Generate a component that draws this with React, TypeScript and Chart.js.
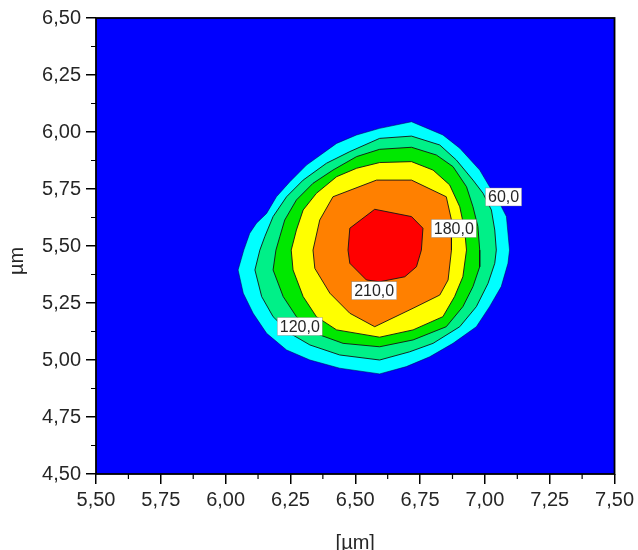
import { useEffect, useRef } from 'react';
import { Chart, registerables } from 'chart.js';

Chart.register(...registerables);

const xTicks = [5.5, 5.75, 6.0, 6.25, 6.5, 6.75, 7.0, 7.25, 7.5];
const xTickLabels = ['5,50', '5,75', '6,00', '6,25', '6,50', '6,75', '7,00', '7,25', '7,50'];
const yTicks = [4.5, 4.75, 5.0, 5.25, 5.5, 5.75, 6.0, 6.25, 6.5];
const yTickLabels = ['4,50', '4,75', '5,00', '5,25', '5,50', '5,75', '6,00', '6,25', '6,50'];
const xTitle = '[µm]';
const yTitle = 'µm';

const levels = [60, 90, 120, 150, 180, 210];
const levelColors = ['#00ffff', '#00f088', '#00e800', '#ffff00', '#ff8000', '#ff0000'];
const backgroundColor = '#0000ff';

const c60X = [6.594, 6.717, 6.838, 6.903, 6.98, 7.018, 7.057, 7.083, 7.095, 7.089, 7.063, 7.018, 6.967, 6.877, 6.787, 6.697, 6.594, 6.44, 6.325, 6.235, 6.158, 6.106, 6.068, 6.048, 6.07, 6.093, 6.119, 6.158, 6.196, 6.248, 6.312, 6.428, 6.505];
const c60Y = [6.016, 6.045, 5.987, 5.929, 5.833, 5.76, 5.687, 5.629, 5.482, 5.424, 5.322, 5.234, 5.146, 5.073, 5.014, 4.971, 4.939, 4.964, 5.0, 5.044, 5.117, 5.205, 5.293, 5.395, 5.482, 5.556, 5.6, 5.643, 5.716, 5.782, 5.855, 5.95, 5.987];

const c90X = [6.594, 6.717, 6.826, 6.89, 6.954, 6.993, 7.025, 7.038, 7.044, 7.038, 7.012, 6.967, 6.903, 6.8, 6.71, 6.594, 6.44, 6.325, 6.248, 6.183, 6.139, 6.113, 6.132, 6.151, 6.183, 6.235, 6.299, 6.389, 6.479];
const c90Y = [5.972, 5.982, 5.943, 5.877, 5.789, 5.731, 5.658, 5.57, 5.482, 5.424, 5.336, 5.234, 5.146, 5.073, 5.036, 5.0, 5.022, 5.066, 5.117, 5.19, 5.278, 5.395, 5.482, 5.541, 5.629, 5.716, 5.789, 5.863, 5.914];

const c120X = [6.594, 6.717, 6.813, 6.877, 6.929, 6.954, 6.973, 6.98, 6.98, 6.954, 6.915, 6.851, 6.723, 6.594, 6.453, 6.363, 6.273, 6.222, 6.183, 6.194, 6.209, 6.228, 6.273, 6.337, 6.414, 6.505];
const c120Y = [5.924, 5.933, 5.899, 5.848, 5.76, 5.672, 5.585, 5.482, 5.409, 5.322, 5.234, 5.146, 5.088, 5.058, 5.073, 5.11, 5.19, 5.278, 5.395, 5.482, 5.541, 5.614, 5.702, 5.775, 5.833, 5.892];

const c150X = [6.594, 6.717, 6.8, 6.864, 6.903, 6.922, 6.929, 6.915, 6.883, 6.838, 6.723, 6.594, 6.428, 6.35, 6.299, 6.26, 6.253, 6.273, 6.299, 6.35, 6.428, 6.505];
const c150Y = [5.866, 5.87, 5.833, 5.768, 5.672, 5.57, 5.482, 5.365, 5.278, 5.19, 5.132, 5.1, 5.132, 5.19, 5.278, 5.395, 5.482, 5.57, 5.658, 5.731, 5.804, 5.841];

const c180X = [6.582, 6.717, 6.851, 6.871, 6.871, 6.858, 6.826, 6.723, 6.575, 6.479, 6.402, 6.344, 6.337, 6.363, 6.414];
const c180Y = [5.789, 5.789, 5.716, 5.614, 5.482, 5.351, 5.285, 5.227, 5.146, 5.205, 5.293, 5.402, 5.482, 5.614, 5.716];

const c210X = [6.575, 6.717, 6.761, 6.755, 6.736, 6.691, 6.594, 6.543, 6.479, 6.472, 6.479];
const c210Y = [5.661, 5.629, 5.578, 5.482, 5.409, 5.365, 5.343, 5.351, 5.424, 5.482, 5.578];

const contourXs = [c60X, c90X, c120X, c150X, c180X, c210X];
const contourYs = [c60Y, c90Y, c120Y, c150Y, c180Y, c210Y];

const labelTexts = ['60,0', '120,0', '180,0', '210,0'];
const labelX = [7.072, 6.286, 6.88, 6.573];
const labelY = [5.715, 5.147, 5.577, 5.304];

const FONT = "'Liberation Sans', Arial, sans-serif";
const TEXT = '#262626';

const contourPlugin = {
  id: 'contourDecor',
  beforeDraw(chart: any) {
    const { ctx, chartArea } = chart;
    ctx.save();
    ctx.fillStyle = backgroundColor;
    ctx.fillRect(chartArea.left, chartArea.top, chartArea.right - chartArea.left, chartArea.bottom - chartArea.top);
    ctx.restore();
  },
  afterDatasetsDraw(chart: any) {
    const { ctx, chartArea, scales } = chart;
    const xs = scales.x;
    const ys = scales.y;
    ctx.save();
    ctx.font = `16px ${FONT}`;
    ctx.textAlign = 'center';
    ctx.textBaseline = 'middle';
    labelTexts.forEach((t, i) => {
      const px = xs.getPixelForValue(labelX[i]);
      const py = ys.getPixelForValue(labelY[i]);
      const w = ctx.measureText(t).width + 5;
      const h = 18;
      ctx.fillStyle = '#ffffff';
      ctx.fillRect(px - w / 2, py - h / 2, w, h);
      ctx.strokeStyle = 'rgba(120,120,120,0.6)';
      ctx.lineWidth = 0.6;
      ctx.strokeRect(px - w / 2, py - h / 2, w, h);
      ctx.fillStyle = TEXT;
      ctx.fillText(t, px, py + 1);
    });
    ctx.strokeStyle = '#000';
    ctx.lineWidth = 1.8;
    ctx.strokeRect(chartArea.left, chartArea.top, chartArea.right - chartArea.left, chartArea.bottom - chartArea.top);
    ctx.lineWidth = 1.2;
    ctx.beginPath();
    for (let i = 0; i < xTicks.length - 1; i++) {
      const px = xs.getPixelForValue((xTicks[i] + xTicks[i + 1]) / 2);
      ctx.moveTo(px, chartArea.bottom);
      ctx.lineTo(px, chartArea.bottom + 5);
    }
    for (let i = 0; i < yTicks.length - 1; i++) {
      const py = ys.getPixelForValue((yTicks[i] + yTicks[i + 1]) / 2);
      ctx.moveTo(chartArea.left, py);
      ctx.lineTo(chartArea.left - 5, py);
    }
    ctx.stroke();
    ctx.restore();
  },
  afterDraw(chart: any) {
    const { ctx, chartArea } = chart;
    ctx.save();
    ctx.fillStyle = TEXT;
    ctx.font = `20px ${FONT}`;
    ctx.textAlign = 'center';
    ctx.textBaseline = 'middle';
    ctx.fillText(xTitle, (chartArea.left + chartArea.right) / 2, 543);
    ctx.translate(17, 261);
    ctx.rotate(-Math.PI / 2);
    ctx.fillText(yTitle, 0, 0);
    ctx.restore();
  },
};

export default function App() {
  const canvasRef = useRef<HTMLCanvasElement | null>(null);

  useEffect(() => {
    const canvas = canvasRef.current;
    if (!canvas) return;
    const datasets = levels.map((lv, i) => {
      const pts = contourXs[i].map((x, j) => ({ x, y: contourYs[i][j] }));
      pts.push({ x: contourXs[i][0], y: contourYs[i][0] });
      return {
        label: String(lv),
        data: pts,
        showLine: true,
        fill: 'shape',
        backgroundColor: levelColors[i],
        borderColor: i === 0 ? 'rgba(0,0,90,0.55)' : 'rgba(20,20,20,0.9)',
        borderWidth: 1,
        pointRadius: 0,
        tension: 0,
        order: levels.length - i,
      };
    });

    const chart = new Chart(canvas, {
      type: 'scatter',
      data: { datasets: datasets as any },
      plugins: [contourPlugin],
      options: {
        animation: false,
        responsive: false,
        devicePixelRatio: 1,
        layout: { padding: { top: 18, right: 23, left: 0, bottom: 0 } },
        plugins: { legend: { display: false }, tooltip: { enabled: false } },
        events: [],
        scales: {
          x: {
            type: 'linear',
            min: 5.5,
            max: 7.5,
            afterFit: (s: any) => { s.height = 76; },
            afterBuildTicks: (s: any) => { s.ticks = xTicks.map((v) => ({ value: v })); },
            ticks: {
              callback: (_v: any, i: number) => xTickLabels[i],
              font: { family: FONT, size: 20 },
              color: TEXT,
              padding: 4,
              maxRotation: 0,
              autoSkip: false,
            },
            grid: { drawOnChartArea: false, color: '#000', tickLength: 10, lineWidth: 1.5 },
            border: { display: false },
          },
          y: {
            type: 'linear',
            min: 4.5,
            max: 6.5,
            afterFit: (s: any) => { s.width = 96; },
            afterBuildTicks: (s: any) => { s.ticks = yTicks.map((v) => ({ value: v })); },
            ticks: {
              callback: (_v: any, i: number) => yTickLabels[i],
              font: { family: FONT, size: 20 },
              color: TEXT,
              padding: 5,
              autoSkip: false,
            },
            grid: { drawOnChartArea: false, color: '#000', tickLength: 10, lineWidth: 1.5 },
            border: { display: false },
          },
        },
      },
    });
    return () => chart.destroy();
  }, []);

  return (
    <div style={{ position: 'absolute', left: 0, top: 0, width: 638, height: 550, background: '#fff' }}>
      <canvas ref={canvasRef} width={638} height={550} style={{ display: 'block', width: 638, height: 550 }} />
    </div>
  );
}
